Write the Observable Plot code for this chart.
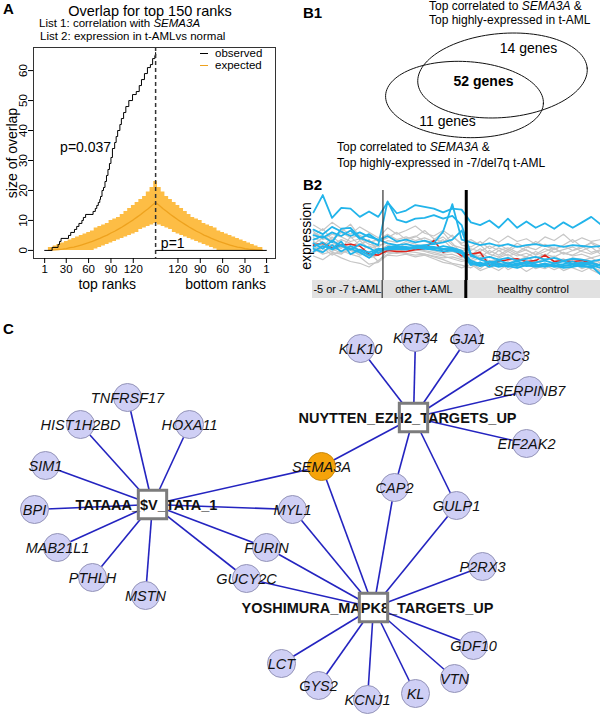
<!DOCTYPE html>
<html><head><meta charset="utf-8">
<script src="https://cdn.jsdelivr.net/npm/d3@7"></script>
<script src="https://cdn.jsdelivr.net/npm/@observablehq/plot@0.6"></script>
<style>
body{margin:0;background:#fff;}
#fig{position:relative;width:600px;height:715px;overflow:hidden;font-family:"Liberation Sans",Arial,sans-serif;color:#000;background:#fff;}
#fig svg{position:absolute;overflow:visible;}
.t{position:absolute;white-space:nowrap;line-height:1;}
.sw{position:absolute;height:0;width:8px;}
</style></head><body><div id="fig"></div>
<script>
// ---------------- Panel A data ----------------
const obsTopRank = [1,11,19,21,23,33,36,41,44,47,51,53,56,66,69,71,73,75,76,78,80,82,84,86,88,90,92,95,97,99,102,104,107,110,114,119,124,128,131,135,139,143,146,149,150];
const obsTopSize = [0,1,2,3,4,5,6,7,8,9,10,11,12,13,14,15,16,17,18,20,21,23,25,27,29,31,34,36,38,40,42,44,46,48,50,52,53,55,57,59,61,62,64,65,66];
const obsBottomRank = [150,1];
const obsBottomSize = [0,0];
const expRank  = [6,10,15,20,25,30,35,40,45,50,55,60,65,70,75,80,85,90,95,100,105,110,115,120,125,130,135,140,145,150];
const expMean  = [0,0.1,0.2,0.3,0.4,0.6,0.9,1.1,1.4,1.8,2.2,2.6,3.0,3.5,4.0,4.6,5.1,5.8,6.4,7.1,7.8,8.6,9.4,10.2,11.1,12.0,13.0,13.9,15.0,16.0];
const expUpper = [1,1,1.5,2,2.5,3,3.5,4,4.5,5,5.5,6,6.5,7.5,8,8.5,9,10,10.5,11,12,13,14,15,16,17,18,19.5,21,23];
const expLower = [0,0,0,0,0,0,0,0,0,0,0,0,0,0.5,1,1.5,2,2.5,3,3.5,4,4.5,5,5.5,6,7,7.5,8,8.5,9];
const rankTickLabels = [1,30,60,90,120];
const nTop = 150;
const pLabels = ["p=0.037","p=1"];
const pRank = [56,127];
const pSide = ["top","bottom"];
const pSize = [34.3,2.4];
const legendLabels = ["observed","expected"];

// ---------------- Panel B1 data ----------------
const vennSets = ["t-AML","-7/del7q t-AML"];
const vennCx = [502,464], vennCy = [75,99], vennRx = [85,79], vennRy = [42,38], vennTilt = [-5,3];
const vennCountLabels = ["14 genes","52 genes","11 genes"];
const vennCountX = [528,483,447], vennCountY = [48,81,121];

// ---------------- Panel B2 data ----------------
const groupNames = ["-5 or -7 t-AML","other t-AML","healthy control"];
const groupSizes = [8,9,15];
const greySeries = [
 [6.2,5.6,6.5,5.8,5.2,6.0,5.4,4.8, 5.9,5.2,5.6,6.1,5.3,5.0,5.6,4.9,4.2, 4.6,4.0,4.8,4.3,5.0,4.4,4.7,4.1,4.9,4.5,5.2,4.3,4.8,4.4,4.6],
 [5.0,5.8,4.6,5.5,6.3,4.9,5.1,4.4, 4.8,5.4,4.6,4.9,5.6,4.7,4.3,5.1,4.0, 3.8,4.4,3.6,4.1,3.5,4.2,3.7,4.4,3.9,3.5,4.0,4.6,3.8,4.2,3.6],
 [4.4,3.8,4.9,4.2,3.7,4.5,3.6,4.0, 4.2,3.9,4.4,4.1,3.8,4.6,5.4,4.2,3.1, 3.2,2.6,3.4,2.9,3.5,3.0,2.7,3.3,2.8,3.6,3.1,2.9,3.4,3.8,3.0],
 [3.5,4.1,3.2,3.0,3.8,3.3,2.6,2.9, 3.6,3.4,3.7,3.5,3.3,3.0,2.8,2.5,2.2, 2.4,2.9,2.2,2.6,3.0,2.3,2.7,2.1,2.5,2.8,2.2,2.6,2.4,2.0,2.3],
 [2.8,2.4,3.1,2.6,2.2,2.0,1.6,2.3, 3.0,3.2,3.1,2.9,3.0,2.7,2.4,2.0,1.8, 1.5,2.1,1.7,1.2,1.9,1.6,2.0,1.4,1.8,1.3,1.7,1.5,1.1,1.6,1.2],
 [4.8,4.3,4.0,4.6,4.2,3.4,3.9,3.5, 3.7,3.8,3.6,3.9,3.7,3.4,3.1,3.3,2.9, 2.0,1.4,2.3,1.8,2.2,1.5,1.9,2.4,1.6,2.1,1.7,2.0,1.4,1.8,1.0],
 [3.9,3.3,3.6,3.1,3.5,2.9,3.2,2.2, 3.4,3.5,3.3,3.6,3.4,3.2,2.9,3.0,2.6, 2.7,3.2,2.6,3.4,2.8,3.1,3.5,2.9,3.3,3.7,3.0,3.4,3.9,3.2,3.5],
 [5.5,4.6,5.2,4.9,4.4,4.7,4.1,3.8, 4.5,4.3,4.7,5.0,4.4,4.1,4.6,3.6,3.4, 3.6,3.3,3.9,3.4,3.7,3.2,3.8,3.5,4.1,3.6,3.9,3.4,3.7,4.3,3.9],
 [3.2,3.7,2.9,3.4,3.0,2.7,1.9,2.1, 2.9,2.8,3.0,2.7,2.9,2.5,2.1,1.9,1.5, 1.9,1.2,1.6,2.2,1.3,1.8,1.1,1.7,1.4,1.9,1.2,1.6,2.1,1.3,0.8],
 [4.1,4.8,4.4,3.6,4.9,4.0,4.6,3.3, 4.0,3.6,4.2,3.8,4.0,3.7,3.5,3.8,3.2, 2.9,3.6,3.0,2.7,3.3,2.8,3.1,2.6,3.0,2.7,3.2,2.8,3.0,2.6,2.9],
 [3.6,3.0,3.3,3.8,3.4,3.1,2.8,3.2, 3.2,3.1,3.3,3.2,3.0,2.8,2.6,2.7,2.4, 2.2,2.6,2.0,2.4,1.9,2.5,2.1,2.3,1.8,2.2,2.5,1.9,2.3,2.6,2.0],
 [5.3,5.0,4.5,5.4,4.8,5.1,4.3,4.6, 5.2,4.6,4.9,4.5,4.8,4.4,4.9,4.0,3.7, 3.4,4.0,3.1,3.7,3.3,3.9,3.4,3.0,3.6,3.2,3.5,3.8,3.3,3.0,3.4]
];
const blueSeries = [
 [7.6,9.5,7.0,8.1,8.0,7.1,7.7,7.1, 8.7,7.5,7.8,8.4,8.2,8.0,7.6,8.0,7.9, 6.5,6.2,6.7,5.9,6.9,5.9,6.6,5.9,6.4,5.8,6.5,5.9,6.5,7.1,6.3],
 [5.1,4.8,5.4,5.0,5.6,4.7,5.2,4.5, 5.0,4.4,4.6,4.3,4.5,4.2,5.5,8.5,4.6, 4.3,4.0,4.2,3.9,4.1,3.8,4.0,4.1,3.9,4.0,3.8,4.0,3.9,3.8,3.9],
 [4.6,5.0,4.3,5.8,5.9,4.8,4.4,4.0, 8.8,6.8,6.5,6.9,7.0,7.3,6.9,7.2,6.2, 3.0,2.4,2.1,2.3,2.0,2.2,1.9,2.1,2.3,2.0,2.2,1.9,2.1,2.0,1.8],
 [3.8,4.3,3.5,4.0,3.6,3.2,2.6,3.4, 3.6,3.7,3.6,3.8,3.7,3.6,3.9,3.7,3.4, 2.3,1.9,2.1,1.8,2.0,1.7,2.2,1.9,1.6,2.0,1.8,1.7,2.0,1.8,1.5],
 [4.2,3.6,4.5,3.9,3.5,4.1,3.7,3.1, 3.8,3.9,3.7,3.8,3.9,3.7,3.5,3.6,3.3, 2.0,1.7,1.9,1.6,1.8,2.0,1.7,1.8,1.9,1.6,1.7,1.9,1.6,1.7,0.8],
 [3.3,3.9,3.6,4.4,3.0,3.5,3.2,3.6, 3.5,3.6,3.5,3.7,3.6,3.5,3.3,3.4,3.1, 1.8,2.1,1.6,1.9,1.7,1.5,1.8,1.6,1.7,1.8,1.5,1.6,1.8,1.5,1.9],
 [3.6,3.2,4.0,3.3,3.9,3.4,2.9,3.5, 3.7,3.8,3.8,3.6,3.8,3.8,3.6,3.5,3.2, 2.1,1.8,2.2,2.0,1.6,1.9,2.1,1.7,2.0,1.7,1.9,2.2,1.8,2.1,1.7],
 [5.7,5.2,6.0,5.5,5.0,5.4,4.9,4.6, 4.2,4.0,4.1,3.9,4.0,4.1,4.3,4.6,5.6, 2.8,2.5,2.7,2.4,2.6,2.3,2.5,2.7,2.4,2.6,2.3,2.5,2.4,2.2,2.4]
];
const redSeries = [4.0,4.2,3.7,4.0,4.1,3.9,3.0,2.9, 3.4,3.3,3.3,3.5,3.6,4.5,3.2,3.6,2.8, 3.0,3.2,1.8,2.2,2.4,2.5,2.2,2.3,2.9,2.2,2.3,2.2,2.3,2.0,1.8];

// ---------------- Panel C data ----------------
const geneNames = ["TNFRSF17","HIST1H2BD","HOXA11","SIM1","BPI","MAB21L1","PTHLH","MSTN","SEMA3A","MYL1","FURIN","GUCY2C","KLK10","KRT34","GJA1","BBC3","SERPINB7","EIF2AK2","CAP2","GULP1","P2RX3","GDF10","LCT","GYS2","KCNJ1","KL","VTN"];
const geneLayoutX = [127,80,189,45,34,57,92,145,321,292,266,246,360,415,467,510,529,526,394,456,482,473,281,318,367,415,454];
const geneLayoutY = [397,424,424,465,509,547,577,595,466,509,547,578,348,337,338,355,390,443,487,505,566,645,663,685,699,693,678];
const hubNames = ["TATAAA_$V_TATA_1","NUYTTEN_EZH2_TARGETS_UP","YOSHIMURA_MAPK8_TARGETS_UP"];
const hubLayoutX = [152,413,373];
const hubLayoutY = [504,417,607];
const hubMembers = [
 ["TNFRSF17","HIST1H2BD","HOXA11","SIM1","BPI","MAB21L1","PTHLH","MSTN","SEMA3A","MYL1","FURIN","GUCY2C"],
 ["KLK10","KRT34","GJA1","BBC3","SERPINB7","EIF2AK2","SEMA3A","CAP2","GULP1"],
 ["SEMA3A","MYL1","CAP2","GULP1","FURIN","GUCY2C","P2RX3","GDF10","LCT","GYS2","KCNJ1","KL","VTN"]
];
const queryGene = "SEMA3A";

// ---------------- helpers ----------------
const fig = document.getElementById("fig");
const FONT = '"Liberation Sans", Arial, sans-serif';
function place(svg, left, top) { svg.style.left = left + "px"; svg.style.top = top + "px"; fig.append(svg); }
function label(html, x, y, o = {}) {
  const d = document.createElement("div");
  d.className = "t"; d.innerHTML = html;
  d.style.left = x + "px"; d.style.top = y + "px";
  d.style.fontSize = (o.size || 12) + "px";
  if (o.bold) d.style.fontWeight = "bold";
  const tx = o.anchor === "middle" ? "-50%" : o.anchor === "end" ? "-100%" : "0";
  d.style.transform = `translate(${tx},-50%)`;
  fig.append(d);
}
const ORANGE_BAND = "#fdbd45", ORANGE_LINE = "#eea21e";

// ---------------- Panel C (drawn first, below) ----------------
const genes = geneNames.map((g, i) => ({name: g, x: geneLayoutX[i], y: geneLayoutY[i], query: g === queryGene}));
const hubs = hubNames.map((h, i) => ({name: h, x: hubLayoutX[i], y: hubLayoutY[i]}));
const geneByName = new Map(genes.map(g => [g.name, g]));
const edges = hubs.flatMap((h, i) => hubMembers[i].map(g => ({x1: h.x, y1: h.y, x2: geneByName.get(g).x, y2: geneByName.get(g).y})));
const plotC = Plot.plot({
  width: 600, height: 405, margin: 0,
  x: {domain: [0, 600], range: [0, 600], axis: null},
  y: {domain: [310, 715], range: [0, 405], axis: null},
  style: {background: "transparent", fontFamily: FONT},
  marks: [
    Plot.link(edges, {x1: "x1", y1: "y1", x2: "x2", y2: "y2", stroke: "#2424c0", strokeWidth: 1.6}),
    Plot.dot(genes, {x: "x", y: "y", r: 14, fill: d => d.query ? "#f5a30a" : "#cfcff5", stroke: d => d.query ? "#c98a10" : "#9494b8", strokeWidth: 1}),
    Plot.dot(hubs, {x: "x", y: "y", r: 16, symbol: "square", fill: "white", stroke: "none"}),
    Plot.text(genes, {x: "x", y: "y", text: "name", fontStyle: "italic", fontSize: 14.5, fill: "#111", dy: 1}),
    Plot.text(hubs, {x: "x", y: "y", text: "name", fontWeight: "bold", fontSize: 14.5, fill: "#111", dx: -6, dy: 1}),
    Plot.dot(hubs, {x: "x", y: "y", r: 16, symbol: "square", fill: "none", stroke: "#7c7c7c", strokeWidth: 3})
  ]
});
place(plotC, 0, 310);
label("C", 3, 328, {size: 15, bold: true});

// ---------------- Panel A ----------------
const expLeft = expRank.map((r, i) => ({u: r, mean: expMean[i], lo: expLower[i], hi: expUpper[i]}));
const expRight = expRank.slice(0, -1).map((r, i) => ({u: 2 * nTop - r, mean: expMean[i], lo: expLower[i], hi: expUpper[i]})).reverse();
const expData = expLeft.concat(expRight);
const obsData = obsTopRank.map((r, i) => ({u: r, v: obsTopSize[i], side: "top"}))
  .concat(obsBottomRank.map((r, i) => ({u: 2 * nTop - r, v: obsBottomSize[i], side: "bottom"})));
const pData = pLabels.map((p, i) => ({label: p, u: pSide[i] === "top" ? pRank[i] : 2 * nTop - pRank[i], v: pSize[i]}));
const xTicks = rankTickLabels.concat(rankTickLabels.map(r => 2 * nTop - r));
const plotA = Plot.plot({
  width: 290, height: 296,
  marginLeft: 33, marginRight: 15, marginTop: 47, marginBottom: 38,
  x: {domain: [-14, 311]},
  y: {domain: [-2.7, 67.7]},
  style: {background: "transparent", fontFamily: FONT, fontSize: "11.5px", color: "#000"},
  marks: [
    Plot.areaY(expData, {x: "u", y1: "lo", y2: "hi", curve: "step", fill: ORANGE_BAND}),
    Plot.lineY(expData, {x: "u", y: "mean", stroke: ORANGE_LINE, strokeWidth: 1.3}),
    Plot.line(obsData, {x: "u", y: "v", z: "side", curve: "step-after", stroke: "#000", strokeWidth: 1}),
    Plot.ruleX([nTop], {stroke: "#333", strokeWidth: 1.5, strokeDasharray: "4,3"}),
    Plot.frame({stroke: "#333"}),
    Plot.axisX({ticks: xTicks, tickFormat: u => u <= nTop ? u : 2 * nTop - u, tickSize: 5, tickPadding: 1, label: null}),
    Plot.axisY({ticks: [0, 10, 20, 30, 40, 50, 60], tickRotate: -90, tickSize: 5, tickPadding: 2, label: null}),
    Plot.text(pData, {x: "u", y: "v", text: "label", fontSize: 14}),
    Plot.text(["top ranks"], {x: [85], frameAnchor: "bottom", lineAnchor: "middle", dy: 26, fontSize: 14}),
    Plot.text(["bottom ranks"], {x: [244], frameAnchor: "bottom", lineAnchor: "middle", dy: 26, fontSize: 14}),
    Plot.text(["size of overlap"], {frameAnchor: "left", textAnchor: "middle", lineAnchor: "middle", dx: -21, rotate: -90, fontSize: 14})
  ]
});
place(plotA, 0, 0);
label("A", 3, 8, {size: 15, bold: true});
label("Overlap for top 150 ranks", 150, 11, {size: 14.5, anchor: "middle"});
label("List 1: correlation with <i>SEMA3A</i>", 39, 24, {size: 11.5});
label("List 2: expression in t-AMLvs normal", 40, 36.5, {size: 11.5});
const legendColors = [ "#000", ORANGE_LINE ];
legendLabels.forEach((l, i) => {
  const s = document.createElement("div"); s.className = "sw";
  s.style.left = "200px"; s.style.top = (53 + i * 12) + "px";
  s.style.borderTop = "1.5px solid " + legendColors[i];
  fig.append(s);
  label(l, 215, 53.5 + i * 12, {size: 11.5});
});

// ---------------- Panel B1 ----------------
const vennPts = [];
vennSets.forEach((name, k) => {
  const th = vennTilt[k] * Math.PI / 180;
  for (let j = 0; j <= 120; j++) {
    const t = 2 * Math.PI * j / 120;
    vennPts.push({set: name,
      x: vennCx[k] + vennRx[k] * Math.cos(t) * Math.cos(th) - vennRy[k] * Math.sin(t) * Math.sin(th),
      y: vennCy[k] + vennRx[k] * Math.cos(t) * Math.sin(th) + vennRy[k] * Math.sin(t) * Math.cos(th)});
  }
});
const vennCounts = vennCountLabels.map((l, i) => ({label: l, x: vennCountX[i], y: vennCountY[i], both: i === 1}));
const plotB1 = Plot.plot({
  width: 300, height: 180, margin: 0,
  x: {domain: [300, 600], range: [0, 300], axis: null},
  y: {domain: [0, 180], range: [0, 180], axis: null},
  style: {background: "transparent", fontFamily: FONT},
  marks: [
    Plot.line(vennPts, {x: "x", y: "y", z: "set", curve: "linear-closed", stroke: "#111", strokeWidth: 1}),
    Plot.text(vennCounts.filter(d => !d.both), {x: "x", y: "y", text: "label", fontSize: 14}),
    Plot.text(vennCounts.filter(d => d.both), {x: "x", y: "y", text: "label", fontSize: 14, fontWeight: "bold"})
  ]
});
place(plotB1, 300, 0);
label("B1", 303, 12, {size: 15, bold: true});
label("Top correlated to <i>SEMA3A</i> &amp;", 429, 6, {size: 12});
label("Top highly-expressed in t-AML", 429, 19.5, {size: 12});
label("Top correlated to <i>SEMA3A</i> &amp;", 337, 147, {size: 12});
label("Top highly-expressed in -7/del7q t-AML", 337, 163, {size: 12});

// ---------------- Panel B2 ----------------
const nSamples = d3.sum(groupSizes);
let acc = 0;
const groups = groupNames.map((g, i) => {
  const start = acc; acc += groupSizes[i];
  return {name: g, x1: Math.max(0, start - 0.5), x2: Math.min(nSamples - 1, acc - 0.5)};
});
const toRows = (arr, key) => arr.flatMap((s, k) => s.map((v, i) => ({series: key + k, i, v})));
const greyRows = toRows(greySeries, "g");
const blueRows = toRows(blueSeries, "b");
const redRows = redSeries.map((v, i) => ({series: "r", i, v}));
const dividers = groups.slice(1).map((g, k) => ({x: g.x1, healthy: k === groups.length - 2}));
const plotB2 = Plot.plot({
  width: 300, height: 96, marginLeft: 13, marginRight: 0, marginTop: 5, marginBottom: 0,
  x: {domain: [0, nSamples - 1], axis: null},
  y: {domain: [0, 10], axis: null},
  style: {background: "transparent", fontFamily: FONT},
  marks: [
    Plot.line(greyRows, {x: "i", y: "v", z: "series", stroke: "#c6c6c6", strokeWidth: 1.2}),
    Plot.line(redRows, {x: "i", y: "v", stroke: "#e0231b", strokeWidth: 1.6}),
    Plot.line(blueRows, {x: "i", y: "v", z: "series", stroke: "#22b4ea", strokeWidth: 1.8}),
    Plot.ruleX(dividers.filter(d => !d.healthy), {x: "x", stroke: "#333", strokeWidth: 1.2}),
    Plot.ruleX(dividers.filter(d => d.healthy), {x: "x", stroke: "#000", strokeWidth: 3}),
    Plot.text(["expression"], {frameAnchor: "left", textAnchor: "middle", lineAnchor: "middle", dx: -7, rotate: -90, fontSize: 14})
  ]
});
place(plotB2, 300, 185);
const plotB2strip = Plot.plot({
  width: 300, height: 18, marginLeft: 12, marginRight: 0, marginTop: 0, marginBottom: 0,
  x: {domain: [0, nSamples - 1], axis: null},
  style: {background: "transparent", fontFamily: FONT},
  marks: [
    Plot.rect(groups, {x1: "x1", x2: "x2", fill: "#e1e1e1"}),
    Plot.ruleX(dividers.filter(d => !d.healthy), {x: "x", stroke: "#333", strokeWidth: 1.2}),
    Plot.ruleX(dividers.filter(d => d.healthy), {x: "x", stroke: "#000", strokeWidth: 3}),
    Plot.text(groups, {x: d => (d.x1 + d.x2) / 2, text: "name", frameAnchor: "middle", fontSize: 11})
  ]
});
place(plotB2strip, 300, 280);
label("B2", 303, 184, {size: 15, bold: true});
</script></body></html>
